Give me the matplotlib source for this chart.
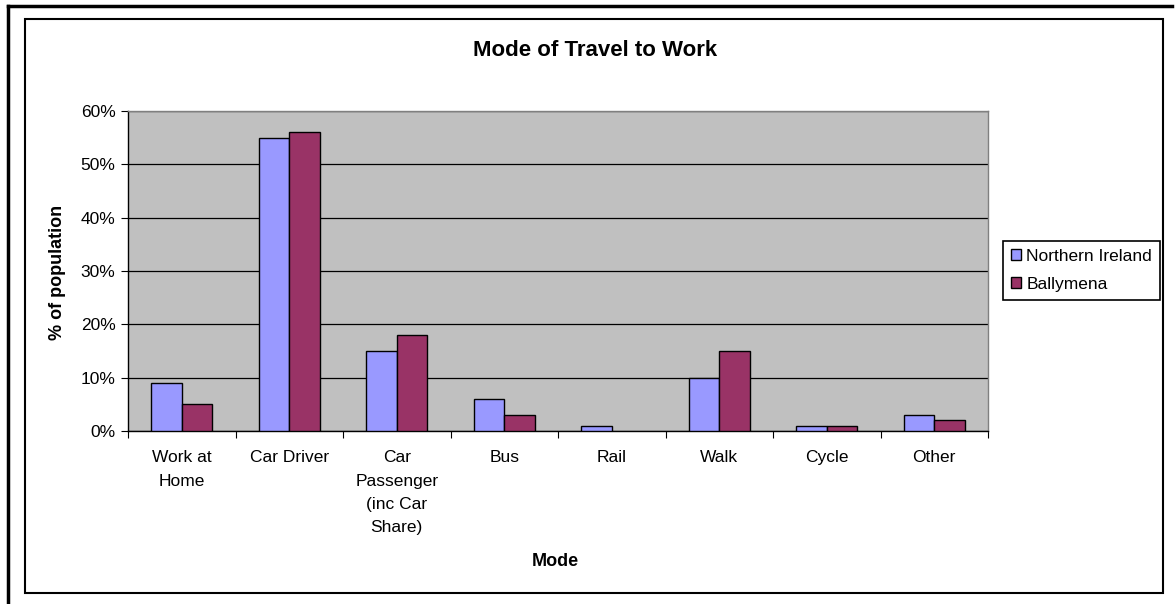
import matplotlib
matplotlib.use("Agg")
import matplotlib.pyplot as plt
import numpy as np
from matplotlib.patches import Rectangle
from matplotlib.lines import Line2D
from matplotlib.ticker import FuncFormatter, MultipleLocator

plt.rcParams['font.family'] = ['Liberation Sans', 'DejaVu Sans']

categories = ["Work at\nHome", "Car Driver", "Car\nPassenger\n(inc Car\nShare)", "Bus",
              "Rail", "Walk", "Cycle", "Other"]
northern_ireland = [9, 55, 15, 6, 1, 10, 1, 3]
ballymena = [5, 56, 18, 3, 0, 15, 1, 2]
series_names = ["Northern Ireland", "Ballymena"]
title = "Mode of Travel to Work"
xlabel = "Mode"
ylabel = "% of population"

W, H = 1176, 604
fig = plt.figure(figsize=(W / 100, H / 100), dpi=100)

# frames
fig.add_artist(Rectangle((25 / W, 1 - 593 / H), (1163 - 25) / W, (593 - 19) / H,
                         transform=fig.transFigure, fill=False, edgecolor='black', lw=1.5))
fig.add_artist(Line2D([8 / W, 1 - 4 / W], [1 - 6 / H, 1 - 6 / H], transform=fig.transFigure,
                      color='black', lw=2.5))
fig.add_artist(Line2D([8 / W, 8 / W], [1 - 6 / H, 0], transform=fig.transFigure,
                      color='black', lw=2.5))

left, right, top, bottom = 128, 988, 111, 431
ax = fig.add_axes([left / W, 1 - bottom / H, (right - left) / W, (bottom - top) / H])
ax.set_facecolor('#C0C0C0')
for s in ax.spines.values():
    s.set_color('#808080')
    s.set_linewidth(1.0)
ax.spines['left'].set_color('black')
ax.spines['bottom'].set_color('black')

x = np.arange(len(categories))
bw = 1 / 3.5
b1 = ax.bar(x - bw / 2, northern_ireland, width=bw, color='#9999FF', edgecolor='black',
            linewidth=1.0, zorder=3, label=series_names[0])
b2 = ax.bar(x + bw / 2, ballymena, width=bw, color='#993366', edgecolor='black',
            linewidth=1.0, zorder=3, label=series_names[1])
for p in list(b1) + list(b2):
    if p.get_height() == 0:
        p.set_visible(False)

ax.set_xlim(-0.5, len(categories) - 0.5)
ax.set_ylim(0, 60)
ax.yaxis.set_major_locator(MultipleLocator(10))
ax.yaxis.set_major_formatter(FuncFormatter(lambda v, p: f"{int(v)}%"))
ax.grid(axis='y', color='black', linewidth=0.9, zorder=1)
ax.set_axisbelow(True)

ax.set_xticks(np.arange(len(categories) + 1) - 0.5, minor=False)
ax.set_xticklabels([])
ax.set_xticks(x, minor=True)
ax.set_xticklabels(categories, minor=True, fontsize=12.5, linespacing=1.68, va='top')
ax.tick_params(axis='x', which='minor', length=0, pad=14)
ax.tick_params(axis='x', which='major', length=5, direction='out', color='black')
ax.tick_params(axis='y', length=5, direction='out', labelsize=12.5, pad=4, color='black')

fig.text(595 / W, 1 - 51 / H, title, ha='center', va='center', fontsize=16, fontweight='bold')
fig.text(555 / W, 1 - 562 / H, xlabel, ha='center', va='center', fontsize=13, fontweight='bold')
fig.text(57 / W, 1 - 272 / H, ylabel, ha='center', va='center', fontsize=13,
         fontweight='bold', rotation=90)

leg = fig.legend(handles=[b1, b2], labels=series_names, loc='upper left',
                 bbox_to_anchor=(1003 / W, 1 - 241 / H), fontsize=12.5, frameon=True,
                 fancybox=False, edgecolor='black', framealpha=1, handlelength=0.6,
                 handleheight=0.6, handletextpad=0.3, borderpad=0.45, labelspacing=0.75,
                 borderaxespad=0)
leg.get_frame().set_linewidth(1.2)

fig.savefig("out.png", dpi=100, facecolor='white')
